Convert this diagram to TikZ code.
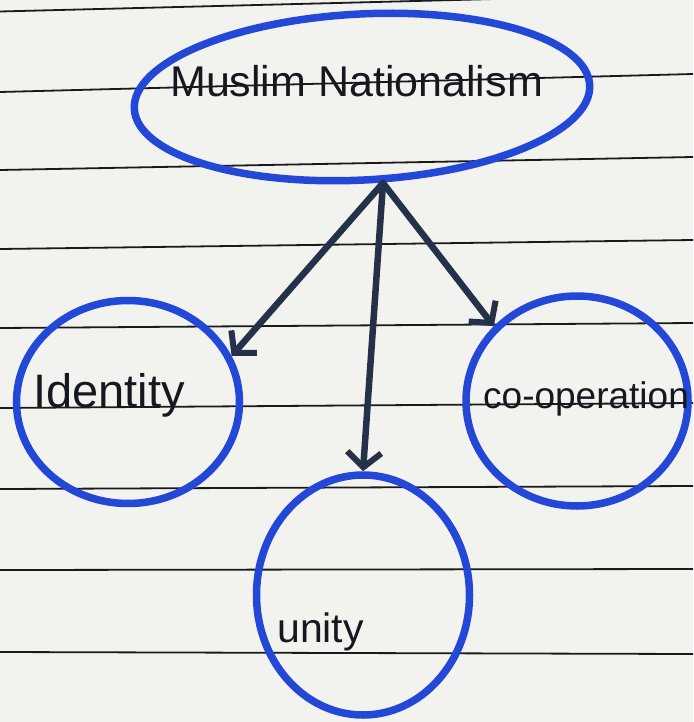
\documentclass[tikz,border=0pt]{standalone}
\usepackage{fontspec}
\setmainfont{Liberation Sans}
\usetikzlibrary{shapes.geometric,arrows.meta}
\definecolor{paper}{HTML}{F2F2EF}
\definecolor{ink}{HTML}{2347D6}
\definecolor{pen}{HTML}{243149}
\definecolor{txt}{HTML}{15181F}
\definecolor{rule}{HTML}{1A1A1A}
\begin{document}
\begin{tikzpicture}[x=1pt,y=-1pt,
  bubble/.style={draw=ink, line width=7.5pt, ellipse, inner sep=0pt},
  arr/.style={draw=pen, line width=6.5pt, line cap=round,
    -{Straight Barb[length=15pt,width=34pt,line width=6pt]}},
  lbl/.style={anchor=base west, text=txt, inner sep=0pt},
  paperline/.style={draw=rule, line width=1.8pt}]
\fill[paper] (0,0) rectangle (693,722);
\useasboundingbox (0,0) rectangle (693,722);
% ruled paper lines
\foreach \a/\b in {11.5/-6, 92/74, 170/157, 249/240, 328/323, 408/403, 489/486, 570/569, 652/654}
  \draw[paperline] (0,\a) -- (693,\b);
% bubbles
\node[bubble, minimum width=456pt, minimum height=166pt, rotate=3] (top) at (362,97) {};
\node[bubble, minimum width=223pt, minimum height=203pt] (idn) at (128,402) {};
\node[bubble, minimum width=222pt, minimum height=210pt] (coop) at (577,401) {};
\node[bubble, minimum width=213pt, minimum height=240pt] (uni) at (363,595) {};
% labels
\node[lbl, font=\fontsize{43}{43}\selectfont] (ttop) at (170,97) {Muslim Nationalism};
\node[lbl, font=\fontsize{47}{47}\selectfont] (tidn) at (33,407) {Identity};
\node[lbl, font=\fontsize{37}{37}\selectfont] (tcoop) at (483,408) {co-operation};
\node[lbl, font=\fontsize{41}{41}\selectfont] (tuni) at (277,642) {unity};
% connectors
\coordinate (hub) at (383,183);
\draw[arr] (hub) -- (idn.24);
\draw[arr] (hub) -- (uni.north);
\draw[arr] (hub) -- (coop.138);
\end{tikzpicture}
\end{document}
